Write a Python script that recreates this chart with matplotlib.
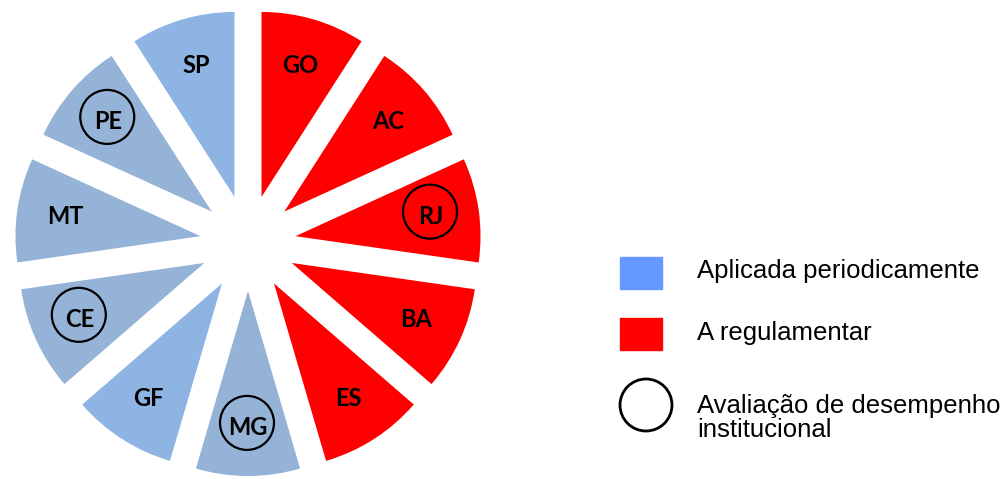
import matplotlib.pyplot as plt
from matplotlib.patches import Circle, Rectangle

# states, clockwise from 12 o'clock
states = ["GO", "AC", "RJ", "BA", "ES", "MG", "GF", "CE", "MT", "PE", "SP"]
shares = [1] * len(states)
status = ["reg", "reg", "reg", "reg", "reg", "per", "per2", "per", "per", "per", "per2"]
evaluated = ["RJ", "MG", "CE", "PE"]

colors = {"reg": "#FF0000", "per": "#95B3D7", "per2": "#8DB4E2"}
legend_labels = ["Aplicada periodicamente", "A regulamentar",
                 "Avaliação de desempenho\ninstitucional"]

W, H = 1008, 479
fig = plt.figure(figsize=(W / 100, H / 100), dpi=100)
ax = fig.add_axes([0, 0, 1, 1])

radius = 185
center = (248, H - 243)
wedges, texts = ax.pie(
    shares,
    labels=states,
    colors=[colors[s] for s in status],
    explode=[48] * len(states),
    radius=radius,
    center=center,
    startangle=90,
    counterclock=False,
    labeldistance=0.74,
    textprops=dict(fontfamily="Lato", fontweight="bold", fontsize=17,
                   ha="center", va="center"),
)

for t in texts:
    t.set_horizontalalignment("center")
    t.set_verticalalignment("center")
    if t.get_text() in evaluated:
        x, y = t.get_position()
        ax.add_patch(Circle((x - 1, y + 5), 27, fill=False, ec="black", lw=1.6, zorder=3))

# legend drawn by hand to the right of the pie
ax.add_patch(Rectangle((620, H - 289), 42, 32, color="#6699FF"))
ax.add_patch(Rectangle((620, H - 350), 42, 32, color="#FF0000"))
ax.add_patch(Circle((646, H - 405), 26, fill=False, ec="black", lw=2))

lkw = dict(fontfamily="Liberation Sans", fontsize=18.5, va="center", ha="left")
ax.text(697, H - 271, legend_labels[0], **lkw)
ax.text(697, H - 333, legend_labels[1], **lkw)
ax.text(697, H - 418, legend_labels[2], linespacing=1.05, **lkw)

ax.set_xlim(0, W)
ax.set_ylim(0, H)
ax.set_aspect("equal")
ax.axis("off")

fig.savefig("out.png", dpi=100, facecolor="white")
